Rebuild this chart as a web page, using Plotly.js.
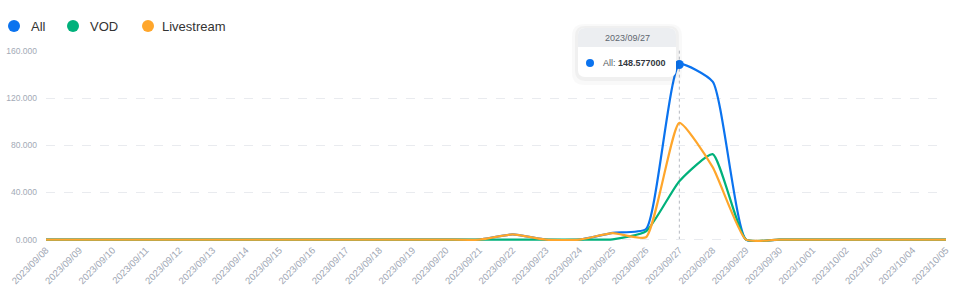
<!DOCTYPE html>
<html>
<head>
<meta charset="utf-8">
<script src="https://cdn.plot.ly/plotly-3.0.1.min.js"></script>
<style>
html,body{margin:0;padding:0;background:#fff;}
#chart{width:958px;height:299px;}
</style>
</head>
<body>
<div id="chart"></div>
<script>
// ---- data ----
const dates = ["2023/09/08","2023/09/09","2023/09/10","2023/09/11","2023/09/12","2023/09/13","2023/09/14",
  "2023/09/15","2023/09/16","2023/09/17","2023/09/18","2023/09/19","2023/09/20","2023/09/21",
  "2023/09/22","2023/09/23","2023/09/24","2023/09/25","2023/09/26","2023/09/27","2023/09/28",
  "2023/09/29","2023/09/30","2023/10/01","2023/10/02","2023/10/03","2023/10/04","2023/10/05"];
const allValues = [0,0,0,0,0,0,0,0,0,0,0,0,0,0,4.5,0,0,5.8,9,148.577,134,0,0,0,0,0,0,0];
const vodValues = [0,0,0,0,0,0,0,0,0,0,0,0,0,0,0,0,0,0.3,7,49.6,72.5,0,0,0,0,0,0,0];
const liveValues = [0,0,0,0,0,0,0,0,0,0,0,0,0,0,4.5,0,0,5.5,2,99,61.5,0,0,0,0,0,0,0];
const yTicks = [0,40,80,120,160];
const yTickLabels = ["0.000","40.000","80.000","120.000","160.000"];
const seriesNames = ["All","VOD","Livestream"];
const colors = ["#0b73ef","#00b17b","#ffa62b"];
const tipDate = "2023/09/27";
const tipIndex = dates.indexOf(tipDate);

// ---- layout geometry (pixels) ----
const W = 958, H = 299;
const L = 46, R = 946, T = 51, Y0 = 240;
const unit = (Y0 - T) / 160;
const yMin = -2;
const B = Y0 - yMin * unit;
const px = x => (x - L) / (R - L);
const py = y => (B - y) / (B - T);
const FONT = "Liberation Sans, Arial, sans-serif";

const seriesData = [allValues, vodValues, liveValues];
const traces = [];
seriesData.forEach((vals, i) => {
  traces.push({
    x: dates, y: vals, type: "scatter", mode: "lines", name: seriesNames[i],
    line: {color: colors[i], width: 2.2, shape: "spline", smoothing: 0.5},
    showlegend: false, hoverinfo: "skip"
  });
});
// highlighted point
traces.push({
  x: [tipDate], y: [allValues[tipIndex]], type: "scatter", mode: "markers", name: "highlight",
  marker: {color: colors[0], size: 9}, showlegend: false, hoverinfo: "skip", cliponaxis: false
});

function rr(x0, y0, x1, y1, r) {
  const X = v => px(v).toFixed(5), Y = v => py(v).toFixed(5);
  return `M${X(x0 + r)},${Y(y0)} L${X(x1 - r)},${Y(y0)} Q${X(x1)},${Y(y0)} ${X(x1)},${Y(y0 + r)} ` +
    `L${X(x1)},${Y(y1 - r)} Q${X(x1)},${Y(y1)} ${X(x1 - r)},${Y(y1)} L${X(x0 + r)},${Y(y1)} ` +
    `Q${X(x0)},${Y(y1)} ${X(x0)},${Y(y1 - r)} L${X(x0)},${Y(y0 + r)} Q${X(x0)},${Y(y0)} ${X(x0 + r)},${Y(y0)} Z`;
}
function rrTop(x0, y0, x1, y1, r) {
  const X = v => px(v).toFixed(5), Y = v => py(v).toFixed(5);
  return `M${X(x0 + r)},${Y(y0)} L${X(x1 - r)},${Y(y0)} Q${X(x1)},${Y(y0)} ${X(x1)},${Y(y0 + r)} ` +
    `L${X(x1)},${Y(y1)} L${X(x0)},${Y(y1)} L${X(x0)},${Y(y0 + r)} Q${X(x0)},${Y(y0)} ${X(x0 + r)},${Y(y0)} Z`;
}

const bx0 = 578, by0 = 28, bx1 = 676, by1 = 77;
const shapes = [
  {type: "line", xref: "x", yref: "paper", x0: tipDate, x1: tipDate, y0: py(Y0), y1: py(T - 1),
   line: {color: "#b5b9c0", width: 1, dash: "dot"}, layer: "below"},
  {type: "path", xref: "paper", yref: "paper", path: rr(bx0 - 6, by0 - 4, bx1 + 6, by1 + 8, 12),
   fillcolor: "rgba(0,0,0,0.025)", line: {width: 0}, layer: "above"},
  {type: "path", xref: "paper", yref: "paper", path: rr(bx0 - 3, by0 - 2, bx1 + 3, by1 + 4, 10),
   fillcolor: "rgba(0,0,0,0.035)", line: {width: 0}, layer: "above"},
  {type: "path", xref: "paper", yref: "paper", path: rr(bx0, by0, bx1, by1, 7),
   fillcolor: "#ffffff", line: {width: 0}, layer: "above"},
  {type: "path", xref: "paper", yref: "paper", path: rrTop(bx0, by0, bx1, by0 + 19, 7),
   fillcolor: "#eceef1", line: {width: 0}, layer: "above"},
  {type: "circle", xref: "paper", yref: "paper", x0: px(586), x1: px(594), y0: py(59), y1: py(67),
   fillcolor: colors[0], line: {width: 0}, layer: "above"}
];

const annotations = [
  {xref: "paper", yref: "paper", x: px(627), y: py(38), text: tipDate, showarrow: false,
   font: {size: 9, color: "#5f6670", family: FONT}, xanchor: "center", yanchor: "middle"},
  {xref: "paper", yref: "paper", x: px(601), y: py(63), text: seriesNames[0] + ":", showarrow: false,
   font: {size: 9, color: "#555b64", family: FONT}, xanchor: "left", yanchor: "middle"},
  {xref: "paper", yref: "paper", x: px(668), y: py(63), text: "<b>" + allValues[tipIndex].toFixed(6) + "</b>", showarrow: false,
   font: {size: 9, color: "#333840", family: FONT}, xanchor: "right", yanchor: "middle"}
];

// custom legend (circle + label)
const legendCx = [14, 73, 148];
const legendTx = [29, 88, 160];
const legendCy = 26;
seriesNames.forEach((n, i) => {
  shapes.push({type: "circle", xref: "paper", yref: "paper",
    x0: px(legendCx[i] - 6), x1: px(legendCx[i] + 6), y0: py(legendCy + 6), y1: py(legendCy - 6),
    fillcolor: colors[i], line: {width: 0}, layer: "above"});
  annotations.push({xref: "paper", yref: "paper", x: px(legendTx[i]), y: py(legendCy), text: n,
    showarrow: false, xanchor: "left", yanchor: "middle",
    font: {size: 13, color: "#333", family: FONT}});
});

const layout = {
  width: W, height: H,
  margin: {l: L, r: W - R, t: T, b: H - B, pad: 0},
  paper_bgcolor: "#ffffff", plot_bgcolor: "#ffffff",
  font: {family: FONT, color: "#333"},
  showlegend: false,
  xaxis: {type: "category", range: [0, dates.length - 1], tickangle: -45,
          tickfont: {size: 9.5, color: "#9ea6b3"}, showgrid: false, zeroline: false,
          showline: false, ticks: "", fixedrange: true, automargin: false, ticklabelstandoff: 0},
  yaxis: {range: [yMin, 160], tickvals: yTicks, ticktext: yTickLabels,
          tickfont: {size: 8.5, color: "#a3aab6"}, showgrid: true, gridcolor: "#e9ebef",
          griddash: "dash", gridwidth: 1, zeroline: false, showline: false, ticks: "",
          ticklen: 0, ticklabelstandoff: 8, fixedrange: true, automargin: false},
  shapes: shapes,
  annotations: annotations
};

Plotly.newPlot("chart", traces, layout, {displayModeBar: false, staticPlot: true});
</script>
</body>
</html>
